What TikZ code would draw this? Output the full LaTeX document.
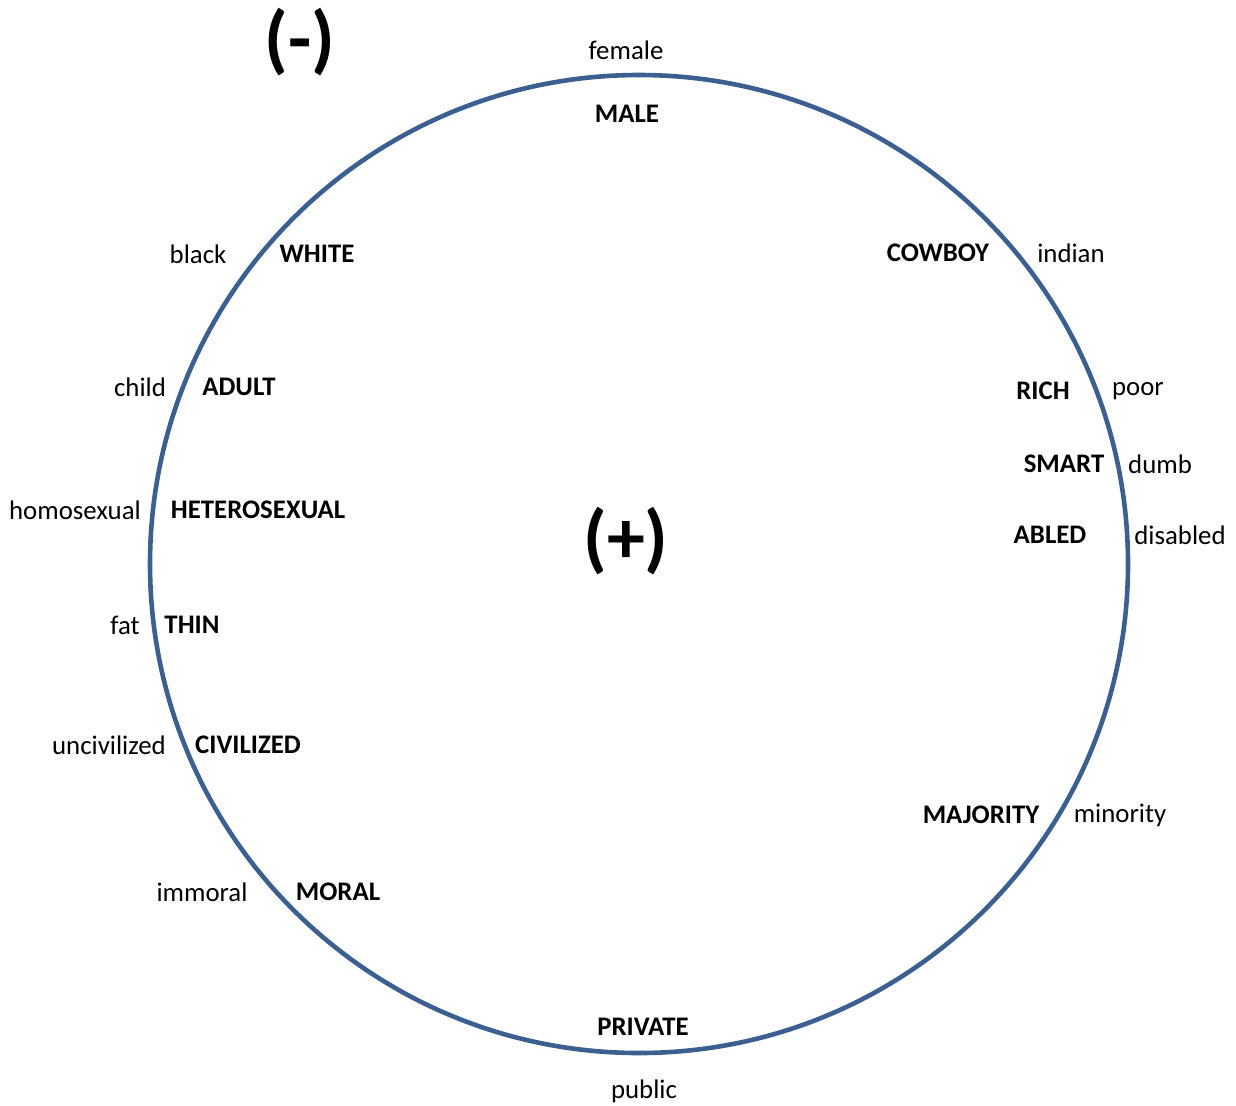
\documentclass[tikz,border=0pt]{standalone}
\usepackage{fontspec}
\setmainfont{Carlito}
\definecolor{ringblue}{HTML}{3C5F91}
\tikzset{
  dominant/.style={font=\fontsize{15.2}{17}\selectfont\bfseries},
  other/.style={font=\fontsize{15.2}{17}\selectfont},
  sign/.style={font=\fontsize{43}{47}\selectfont\bfseries}
}

\begin{document}
\begin{tikzpicture}[x=0.5668pt, y=-0.5668pt]
  \def\Cx{639};
  \def\Cy{564};
  \def\R{489};
  \useasboundingbox (0,0) rectangle (1236,1105);
         \draw[ringblue, line width=2.6pt] (\Cx, \Cy) circle (\R);
        \node[sign] (minus) at (300, 42) {(-)};
        \node[sign] (plus) at (626, 541) {(+)};
        % top and bottom
        \node[other] (female) at (626, 50) {female};
        \node[dominant] (male) at (627, 114) {MALE};
        \node[dominant] (private) at (643, 1027) {PRIVATE};
        \node[other] (public) at (644, 1091) {public};
        % left side
        \node[other] (black) at (198, 254) {black};
        \node[dominant] (white) at (317, 254) {WHITE};
        \node[other] (child) at (140, 387) {child};
        \node[dominant] (adult) at (239, 387) {ADULT};
        \node[other] (homosexual) at (75, 510) {homosexual};
        \node[dominant] (hetero) at (258, 510) {HETEROSEXUAL};
        \node[other] (fat) at (125, 625) {fat};
        \node[dominant] (thin) at (192, 625) {THIN};
        \node[other] (uncivilized) at (109, 745) {uncivilized};
        \node[dominant] (civilized) at (248, 745) {CIVILIZED};
        \node[other] (immoral) at (202, 892) {immoral};
        \node[dominant] (moral) at (338, 892) {MORAL};
        % right side
        \node[dominant] (cowboy) at (938, 253) {COWBOY};
        \node[other] (indian) at (1071, 253) {indian};
        \node[dominant] (rich) at (1043, 391) {RICH};
        \node[other] (poor) at (1138, 391) {poor};
        \node[dominant] (smart) at (1064, 464) {SMART};
        \node[other] (dumb) at (1160, 464) {dumb};
        \node[dominant] (abled) at (1050, 535) {ABLED};
        \node[other] (disabled) at (1180, 535) {disabled};
        \node[dominant] (majority) at (981, 815) {MAJORITY};
        \node[other] (minority) at (1120, 815) {minority};
\end{tikzpicture}
\end{document}
